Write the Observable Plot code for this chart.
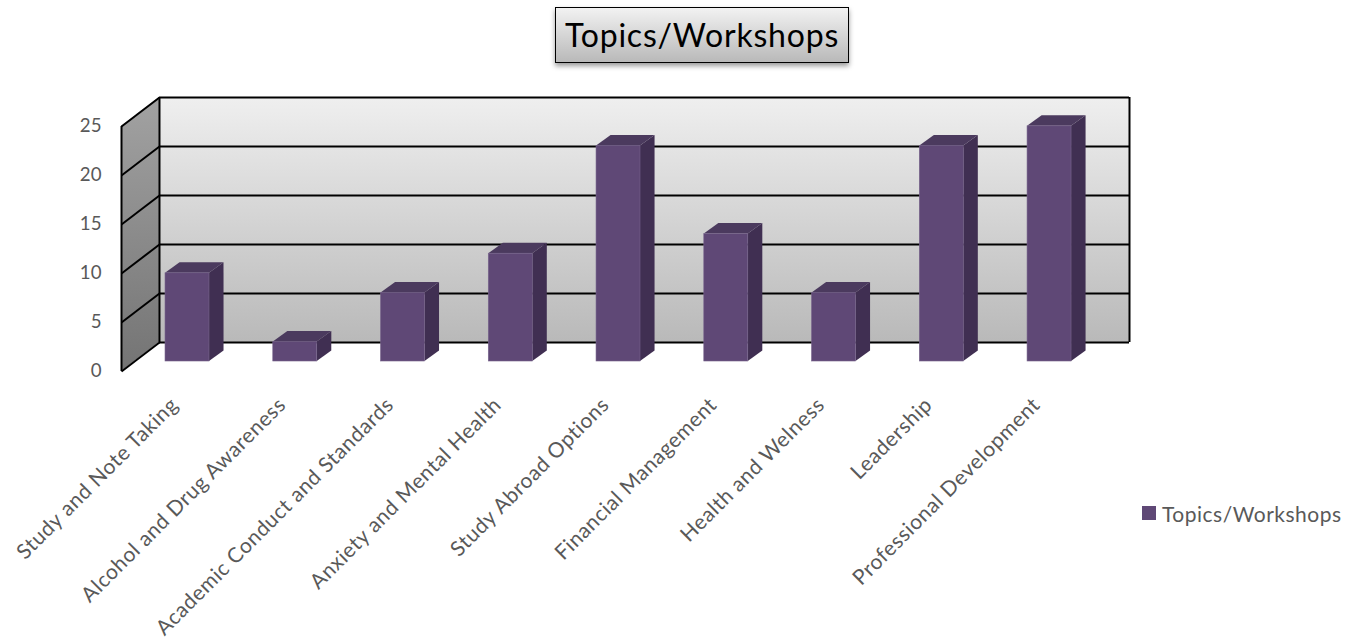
<!DOCTYPE html>
<html><head><meta charset="utf-8">
<script src="https://cdn.jsdelivr.net/npm/d3@7"></script>
<script src="https://cdn.jsdelivr.net/npm/@observablehq/plot@0.6"></script>
<style>
html,body{margin:0;padding:0;background:#fff;overflow:hidden}
body{width:1361px;height:639px;position:relative;font-family:Lato,sans-serif}
#head{height:66px;position:relative}
#title{position:absolute;left:555px;top:7px;width:292px;height:54px;box-sizing:content-box;border:1.5px solid #000;
background:linear-gradient(#f2f2f2,#b9b9b9);box-shadow:0 3px 5px rgba(0,0,0,.4);
font-size:32px;letter-spacing:.8px;line-height:53px;text-align:center;color:#000}
#legend{position:absolute;left:1142px;top:501px;height:24px;display:flex;align-items:center;font-size:21px;letter-spacing:.5px;color:#595959}
#legend i{display:block;width:14px;height:14px;background:#5f4876;margin-right:6px}
svg{display:block}
</style></head><body>
<div id="head"><div id="title">Topics/Workshops</div></div>
<div id="chart"></div>
<div id="legend"><i></i><span>Topics/Workshops</span></div>
<script>
const categories = ["Study and Note Taking","Alcohol and Drug Awareness","Academic Conduct and Standards","Anxiety and Mental Health","Study Abroad Options","Financial Management","Health and Welness","Leadership","Professional Development"];
const values = [9,2,7,11,22,13,7,22,24];
const yTicks = [0,5,10,15,20,25];

// 3D layout in scale units
const wallFront = -0.6125, wallBack = -0.26, wallRight = 8.742, wallRise = 2.96;
const barHalf = 0.204, depthX = 0.135, depthY = 1.07, barBase = 1.02;

const rows = categories.map((category,i)=>({category,i,value:values[i]}));
const sides = rows.flatMap(d=>[
  {i:d.i,x:d.i+barHalf,y1:barBase,y2:barBase+d.value},
  {i:d.i,x:d.i+barHalf+depthX,y1:barBase+depthY,y2:barBase+depthY+d.value}]);
const tops = rows.flatMap(d=>[
  {i:d.i,y:barBase+d.value,x1:d.i-barHalf,x2:d.i+barHalf},
  {i:d.i,y:barBase+d.value+depthY,x1:d.i-barHalf+depthX,x2:d.i+barHalf+depthX}]);
const wall = [
  {x:wallFront,y1:0,y2:25},
  {x:wallBack,y1:wallRise,y2:25+wallRise}];

function grad(id,a,b){
  const g=d3.create("svg:linearGradient").attr("id",id).attr("x1",0).attr("y1",0).attr("x2",0).attr("y2",1);
  g.append("stop").attr("offset",0).attr("stop-color",a);
  g.append("stop").attr("offset",1).attr("stop-color",b);
  return g.node();
}
const defs = () => {
  const d=d3.create("svg:defs");
  d.append(()=>grad("backWall","#efefef","#b9b9b9"));
  d.append(()=>grad("sideWall","#a2a2a2","#747474"));
  return d.node();
};

const chart = Plot.plot({
  width:1361,height:573,
  marginLeft:121,marginRight:232,marginTop:31,marginBottom:268,
  style:{fontFamily:"Lato, sans-serif",background:"#fff",overflow:"visible"},
  x:{domain:[wallFront,wallRight],axis:null},
  y:{domain:[0,25+wallRise],axis:null},
  marks:[
    defs,
    Plot.rect([{}],{x1:wallBack,x2:wallRight,y1:wallRise,y2:25+wallRise,fill:"url(#backWall)"}),
    Plot.areaY(wall,{x:"x",y1:"y1",y2:"y2",fill:"url(#sideWall)"}),
    Plot.ruleY(yTicks,{y:d=>d+wallRise,x1:wallBack,x2:wallRight,stroke:"#000",strokeWidth:2}),
    Plot.link(yTicks,{x1:wallFront,y1:d=>d,x2:wallBack,y2:d=>d+wallRise,stroke:"#000",strokeWidth:2}),
    Plot.ruleX([wallFront],{y1:0,y2:25,stroke:"#000",strokeWidth:2}),
    Plot.ruleX([wallBack,wallRight],{y1:wallRise,y2:25+wallRise,stroke:"#000",strokeWidth:2}),
    Plot.areaY(sides,{x:"x",y1:"y1",y2:"y2",z:"i",fill:"#402f52"}),
    Plot.areaX(tops,{y:"y",x1:"x1",x2:"x2",z:"i",fill:"#4b3a5e"}),
    Plot.rect(rows,{x1:d=>d.i-barHalf,x2:d=>d.i+barHalf,y1:barBase,y2:d=>barBase+d.value,fill:"#5f4876",stroke:"#77648c",strokeWidth:0.6}),
    Plot.axisY(yTicks,{tickSize:0,tickPadding:20,fontSize:18.7,color:"#595959",label:null}),
    Plot.text(rows,{x:"i",y:0,text:"category",textAnchor:"end",rotate:-45,dx:-13,dy:30,fontSize:21,fill:"#595959"})
  ]
});
chart.querySelectorAll("text").forEach(t=>{ if(t.parentNode.getAttribute("aria-label")==="text") t.style.letterSpacing="0.55px"; });
document.getElementById("chart").append(chart);
</script>
</body></html>
